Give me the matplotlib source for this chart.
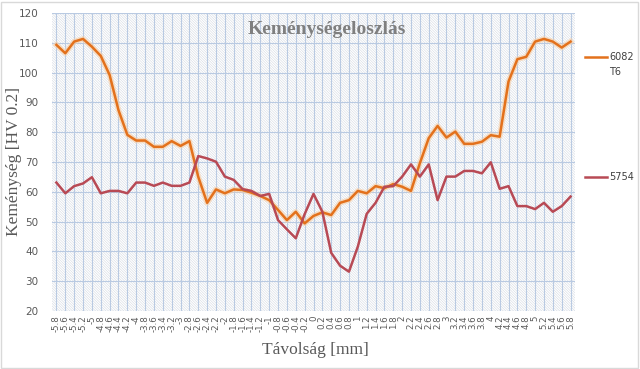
import matplotlib
matplotlib.use("Agg")
import matplotlib.pyplot as plt
from matplotlib.patches import Rectangle
from matplotlib.lines import Line2D
import numpy as np

categories = ["-5.8", "-5.6", "-5.4", "-5.2", "-5", "-4.8", "-4.6", "-4.4", "-4.2", "-4",
              "-3.8", "-3.6", "-3.4", "-3.2", "-3", "-2.8", "-2.6", "-2.4", "-2.2", "-2",
              "-1.8", "-1.6", "-1.4", "-1.2", "-1", "-0.8", "-0.6", "-0.4", "-0.2", "0",
              "0.2", "0.4", "0.6", "0.8", "1", "1.2", "1.4", "1.6", "1.8", "2",
              "2.2", "2.4", "2.6", "2.8", "3", "3.2", "3.4", "3.6", "3.8", "4",
              "4.2", "4.4", "4.6", "4.8", "5", "5.2", "5.4", "5.6", "5.8"]

s6082 = [109.3, 106.5, 110.4, 111.3, 108.7, 105.6, 99.2, 87.4, 79.1, 77.2,
         77.2, 75.1, 75.1, 77.0, 75.4, 77.0, 65.0, 56.3, 60.8, 59.5,
         60.8, 60.6, 59.7, 58.6, 57.2, 53.9, 50.5, 53.3, 49.4, 51.9,
         53.1, 52.2, 56.3, 57.2, 60.3, 59.5, 61.9, 61.2, 62.6, 61.7,
         60.3, 69.6, 78.0, 82.1, 78.2, 80.2, 76.1, 76.1, 76.8, 79.0,
         78.5, 97.0, 104.5, 105.3, 110.4, 111.3, 110.4, 108.4, 110.4]

s5754 = [63.1, 59.5, 61.9, 62.8, 64.9, 59.5, 60.3, 60.3, 59.5, 63.1,
         63.1, 62.0, 63.1, 62.0, 62.0, 63.1, 72.0, 71.2, 70.1, 65.1,
         64.0, 60.9, 60.3, 58.6, 59.3, 50.5, 47.4, 44.4, 52.5, 59.3,
         53.3, 39.5, 35.2, 33.2, 41.6, 52.6, 56.3, 61.7, 61.9, 65.1,
         69.2, 65.1, 69.2, 57.2, 65.1, 65.1, 67.0, 67.0, 66.2, 69.9,
         61.0, 61.9, 55.2, 55.2, 54.2, 56.3, 53.3, 55.2, 58.4]

names = ["6082 T6", "5754"]
colors = ["#E3711C", "#B84A55"]

yticks = [20, 30, 40, 50, 60, 70, 80, 90, 100, 110, 120]

plt.rcParams['hatch.linewidth'] = 0.4

fig = plt.figure(figsize=(6.4, 3.69), dpi=100)
fig.patch.set_facecolor("white")
ax = fig.add_axes([52/640, 1-311/369, 523/640, 298/369])
ax.set_facecolor("white")

x = np.arange(len(categories))

# hatched background
hatch = Rectangle((0, 0), 1, 1, transform=ax.transAxes, fill=False,
                  hatch="\\" * 13, edgecolor="#D3D9E2", linewidth=0, zorder=0)
ax.add_patch(hatch)

ax.set_xlim(-0.5, len(categories) - 0.5)
ax.set_ylim(20, 120)
ax.set_yticks(yticks)
ax.set_xticks(x)
ax.set_xticklabels(categories, rotation=90, fontsize=6.2, color="#595959")
ax.tick_params(axis="both", length=0, pad=3)
ax.tick_params(axis="y", labelsize=7.5, labelcolor="#595959", pad=10)
ax.grid(True, axis="both", color="#B9CAE2", linewidth=0.8, zorder=1)
ax.set_axisbelow(True)
for sp in ax.spines.values():
    sp.set_visible(False)

# glow for orange line
ax.plot(x, s6082, color="#F8CFA6", linewidth=4.0, alpha=0.6, zorder=2,
        solid_joinstyle="round")
ax.plot(x, s6082, color=colors[0], linewidth=1.8, zorder=3, solid_joinstyle="round")
ax.plot(x, s5754, color=colors[1], linewidth=1.8, zorder=3, solid_joinstyle="round")

fig.text(327/640, 1 - 30/369, "Keménységeloszlás", fontsize=14, fontweight="bold",
         color="#7F7F7F", family="Liberation Serif", ha="center", va="center")
fig.text(14/640, 1 - 162/369, "Keménység [HV 0.2]", fontsize=12.5, color="#595959",
         family="Liberation Serif", rotation=90, ha="center", va="center")
fig.text(315/640, 1 - 350/369, "Távolság [mm]", fontsize=12.5, color="#595959",
         family="Liberation Serif", ha="center", va="center")

# legend entries
legend_y = [57, 177]
for name, col, ypix in zip(names, colors, legend_y):
    yf = 1 - ypix / 369
    fig.add_artist(Line2D([585/640, 607/640], [yf, yf], color=col, linewidth=1.8,
                          transform=fig.transFigure))
parts = names[0].split(" ")
fig.text(609/640, 1 - 57/369, parts[0], fontsize=7, color="#404040", va="center", ha="left")
fig.text(609/640, 1 - 72/369, parts[1], fontsize=7, color="#404040", va="center", ha="left")
fig.text(609/640, 1 - 177/369, names[1], fontsize=7, color="#404040", va="center", ha="left")

# chart border
fig.add_artist(Rectangle((1/640, 1/369), 637/640, 366/369, transform=fig.transFigure,
                         fill=False, edgecolor="#D9D9D9", linewidth=1))

fig.savefig("out.png", dpi=100)
